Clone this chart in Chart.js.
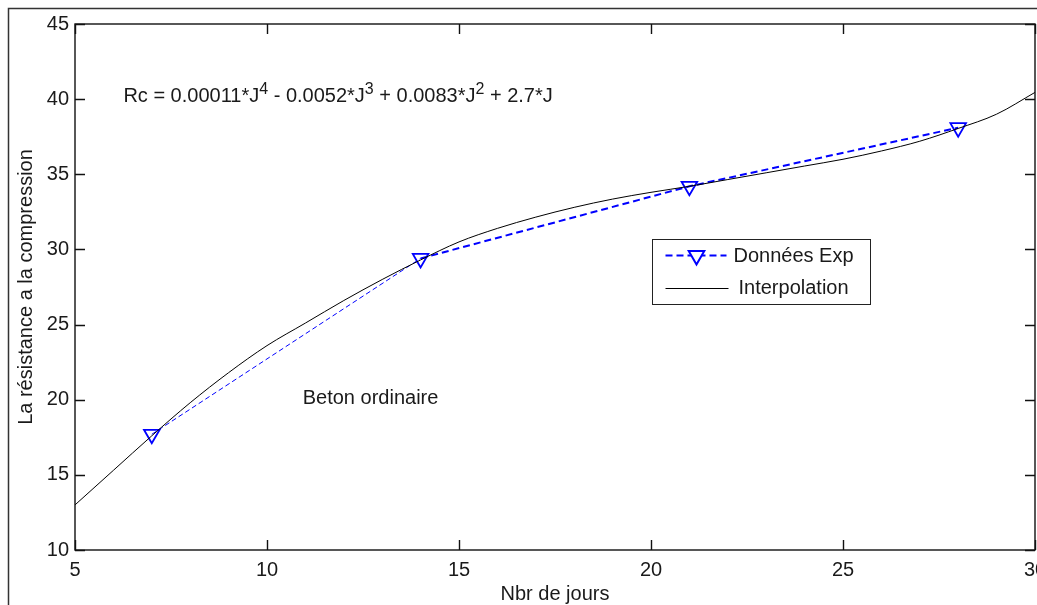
<!DOCTYPE html>
<html>
<head>
<meta charset="utf-8">
<title>Beton ordinaire</title>
<script src="https://cdn.jsdelivr.net/npm/chart.js@4.4.0/dist/chart.umd.min.js"></script>
<style>
  html, body { margin: 0; padding: 0; background: #fff; overflow: hidden; }
  #wrap { position: relative; width: 1037px; height: 605px; }
</style>
</head>
<body>
<div id="wrap"><canvas id="rcChart" width="1037" height="605"></canvas></div>
<script>
// Données expérimentales (jours / résistance)
const joursExp = [7, 14, 21, 28];
const rcExp = [17.7, 29.4, 34.2, 38.1];

// Courbe d'interpolation
const joursInterp = [5, 6, 7, 8, 9, 10, 11, 12, 13, 14, 15, 16, 17, 18, 19, 20, 21, 22, 23, 24, 25, 26, 27, 28, 29, 30];
const rcInterp = [13.0, 15.3, 17.6, 19.8, 21.8, 23.6, 25.1, 26.6, 28.0, 29.3, 30.5, 31.4, 32.15, 32.8, 33.35, 33.8, 34.2, 34.65, 35.1, 35.55, 36.0, 36.55, 37.2, 38.05, 39.0, 40.45];

const xTicks = [5, 10, 15, 20, 25, 30];
const yTicks = [10, 15, 20, 25, 30, 35, 40, 45];

// equation text, [text, superscript?]
const equationParts = [
    ['Rc = 0.00011*J', false], ['4', true],
    [' - 0.0052*J', false], ['3', true],
    [' + 0.0083*J', false], ['2', true],
    [' + 2.7*J', false]
];

const FONT = "'Liberation Sans', Arial, sans-serif";
const TEXT_COLOR = '#1a1a1a';

// MATLAB-like frame: box, inner ticks, annotations, legend
const matlabLook = {
    id: 'matlabLook',
    beforeDraw(chart) {
        const ctx = chart.ctx;
        ctx.save();
        ctx.strokeStyle = '#333';
        ctx.lineWidth = 1.5;
        ctx.beginPath();
        ctx.moveTo(8.5, chart.height + 2);
        ctx.lineTo(8.5, 8.5);
        ctx.lineTo(chart.width + 2, 8.5);
        ctx.stroke();
        ctx.restore();
    },
    afterDatasetsDraw(chart) {
        const ctx = chart.ctx;
        const { left, top, right, bottom } = chart.chartArea;
        const xs = chart.scales.x, ys = chart.scales.y;
        const tl = 10;
        ctx.save();
        ctx.strokeStyle = '#111';
        ctx.lineWidth = 1.4;
        ctx.strokeRect(left, top, right - left, bottom - top);
        ctx.beginPath();
        xs.ticks.forEach(t => {
            const px = Math.round(xs.getPixelForValue(t.value)) + 0.5;
            ctx.moveTo(px, bottom); ctx.lineTo(px, bottom - tl);
            ctx.moveTo(px, top); ctx.lineTo(px, top + tl);
        });
        ys.ticks.forEach(t => {
            const py = Math.round(ys.getPixelForValue(t.value)) + 0.5;
            ctx.moveTo(left, py); ctx.lineTo(left + tl, py);
            ctx.moveTo(right, py); ctx.lineTo(right - tl, py);
        });
        ctx.stroke();
        ctx.restore();
    },
    afterDraw(chart) {
        const ctx = chart.ctx;
        const xs = chart.scales.x, ys = chart.scales.y;
        const { left, top, width, height } = chart.chartArea;
        ctx.save();
        ctx.fillStyle = TEXT_COLOR;
        ctx.textBaseline = 'alphabetic';
        ctx.textAlign = 'left';

        // equation
        let ex = xs.getPixelForValue(6.26);
        const ey = ys.getPixelForValue(39.83);
        equationParts.forEach(([txt, sup]) => {
            ctx.font = (sup ? '16px ' : '20px ') + FONT;
            ctx.fillText(txt, ex, sup ? ey - 8 : ey);
            ex += ctx.measureText(txt).width;
        });

        // label
        ctx.font = '20px ' + FONT;
        ctx.fillText('Beton ordinaire', xs.getPixelForValue(10.93), ys.getPixelForValue(19.7));

        // legend
        const lx = Math.round(left + 0.601 * width) + 0.5;
        const ly = Math.round(top + 0.409 * height) + 0.5;
        const lw = 218, lh = 65;
        ctx.fillStyle = '#fff';
        ctx.fillRect(lx, ly, lw, lh);
        ctx.strokeStyle = '#222';
        ctx.lineWidth = 1;
        ctx.strokeRect(lx, ly, lw, lh);

        const y1 = ly + 16, y2 = ly + 49;
        ctx.strokeStyle = '#0000ff';
        ctx.lineWidth = 2;
        ctx.setLineDash([7, 4]);
        ctx.beginPath();
        ctx.moveTo(lx + 13, y1); ctx.lineTo(lx + 74, y1);
        ctx.stroke();
        ctx.setLineDash([]);
        Chart.helpers.drawPoint(ctx, {
            pointStyle: 'triangle', rotation: 180, radius: 9, borderWidth: 1.8
        }, lx + 44, y1);

        ctx.strokeStyle = '#000';
        ctx.lineWidth = 1;
        ctx.beginPath();
        ctx.moveTo(lx + 13, y2); ctx.lineTo(lx + 76, y2);
        ctx.stroke();

        ctx.fillStyle = TEXT_COLOR;
        ctx.font = '20px ' + FONT;
        ctx.textBaseline = 'middle';
        ctx.fillText('Données Exp', lx + 81, y1 + 1);
        ctx.fillText('Interpolation', lx + 86, y2);
        ctx.restore();
    }
};

const tickFont = { family: FONT, size: 20 };

new Chart(document.getElementById('rcChart'), {
    type: 'scatter',
    data: {
        datasets: [
            {
                label: 'Données Exp',
                data: joursExp.map((x, i) => ({ x: x, y: rcExp[i] })),
                showLine: true,
                borderColor: '#0000ff',
                borderWidth: 2,
                borderDash: [7, 4],
                segment: {
                    borderWidth: c => c.p0DataIndex === 0 ? 1 : 2,
                    borderDash: c => c.p0DataIndex === 0 ? [5, 3] : [7, 4]
                },
                pointStyle: 'triangle',
                rotation: 180,
                pointRadius: 9,
                pointBorderWidth: 1.8,
                pointBorderColor: '#0000ff',
                pointBackgroundColor: 'rgba(0,0,0,0)',
                order: 1
            },
            {
                label: 'Interpolation',
                data: joursInterp.map((x, i) => ({ x: x, y: rcInterp[i] })),
                showLine: true,
                borderColor: '#000',
                borderWidth: 1,
                pointRadius: 0,
                cubicInterpolationMode: 'monotone',
                order: 0
            }
        ]
    },
    options: {
        responsive: false,
        animation: false,
        devicePixelRatio: 1,
        layout: { autoPadding: false, padding: { left: 0, top: 24, right: 2, bottom: 0 } },
        plugins: {
            legend: { display: false },
            tooltip: { enabled: false }
        },
        scales: {
            x: {
                type: 'linear',
                min: 5,
                max: 30,
                afterBuildTicks: s => { s.ticks = xTicks.map(v => ({ value: v })); },
                afterFit: s => { s.height = 55; s.paddingLeft = 0; s.paddingRight = 0; },
                grid: { display: false, drawTicks: false },
                border: { display: false },
                ticks: { font: tickFont, color: TEXT_COLOR, padding: 8, maxRotation: 0, autoSkip: false },
                title: {
                    display: true, text: 'Nbr de jours', color: TEXT_COLOR,
                    font: { family: FONT, size: 20, lineHeight: 1 },
                    padding: { top: 0, bottom: 1 }
                }
            },
            y: {
                type: 'linear',
                min: 10,
                max: 45,
                afterBuildTicks: s => { s.ticks = yTicks.map(v => ({ value: v })); },
                afterFit: s => { s.width = 75; s.paddingTop = 0; s.paddingBottom = 0; },
                grid: { display: false, drawTicks: false },
                border: { display: false },
                ticks: { font: tickFont, color: TEXT_COLOR, padding: 6, autoSkip: false },
                title: {
                    display: true, text: 'La résistance a la compression', color: TEXT_COLOR,
                    font: { family: FONT, size: 20, lineHeight: 1 },
                    padding: { top: 16, bottom: 0 }
                }
            }
        }
    },
    plugins: [matlabLook]
});
</script>
</body>
</html>
